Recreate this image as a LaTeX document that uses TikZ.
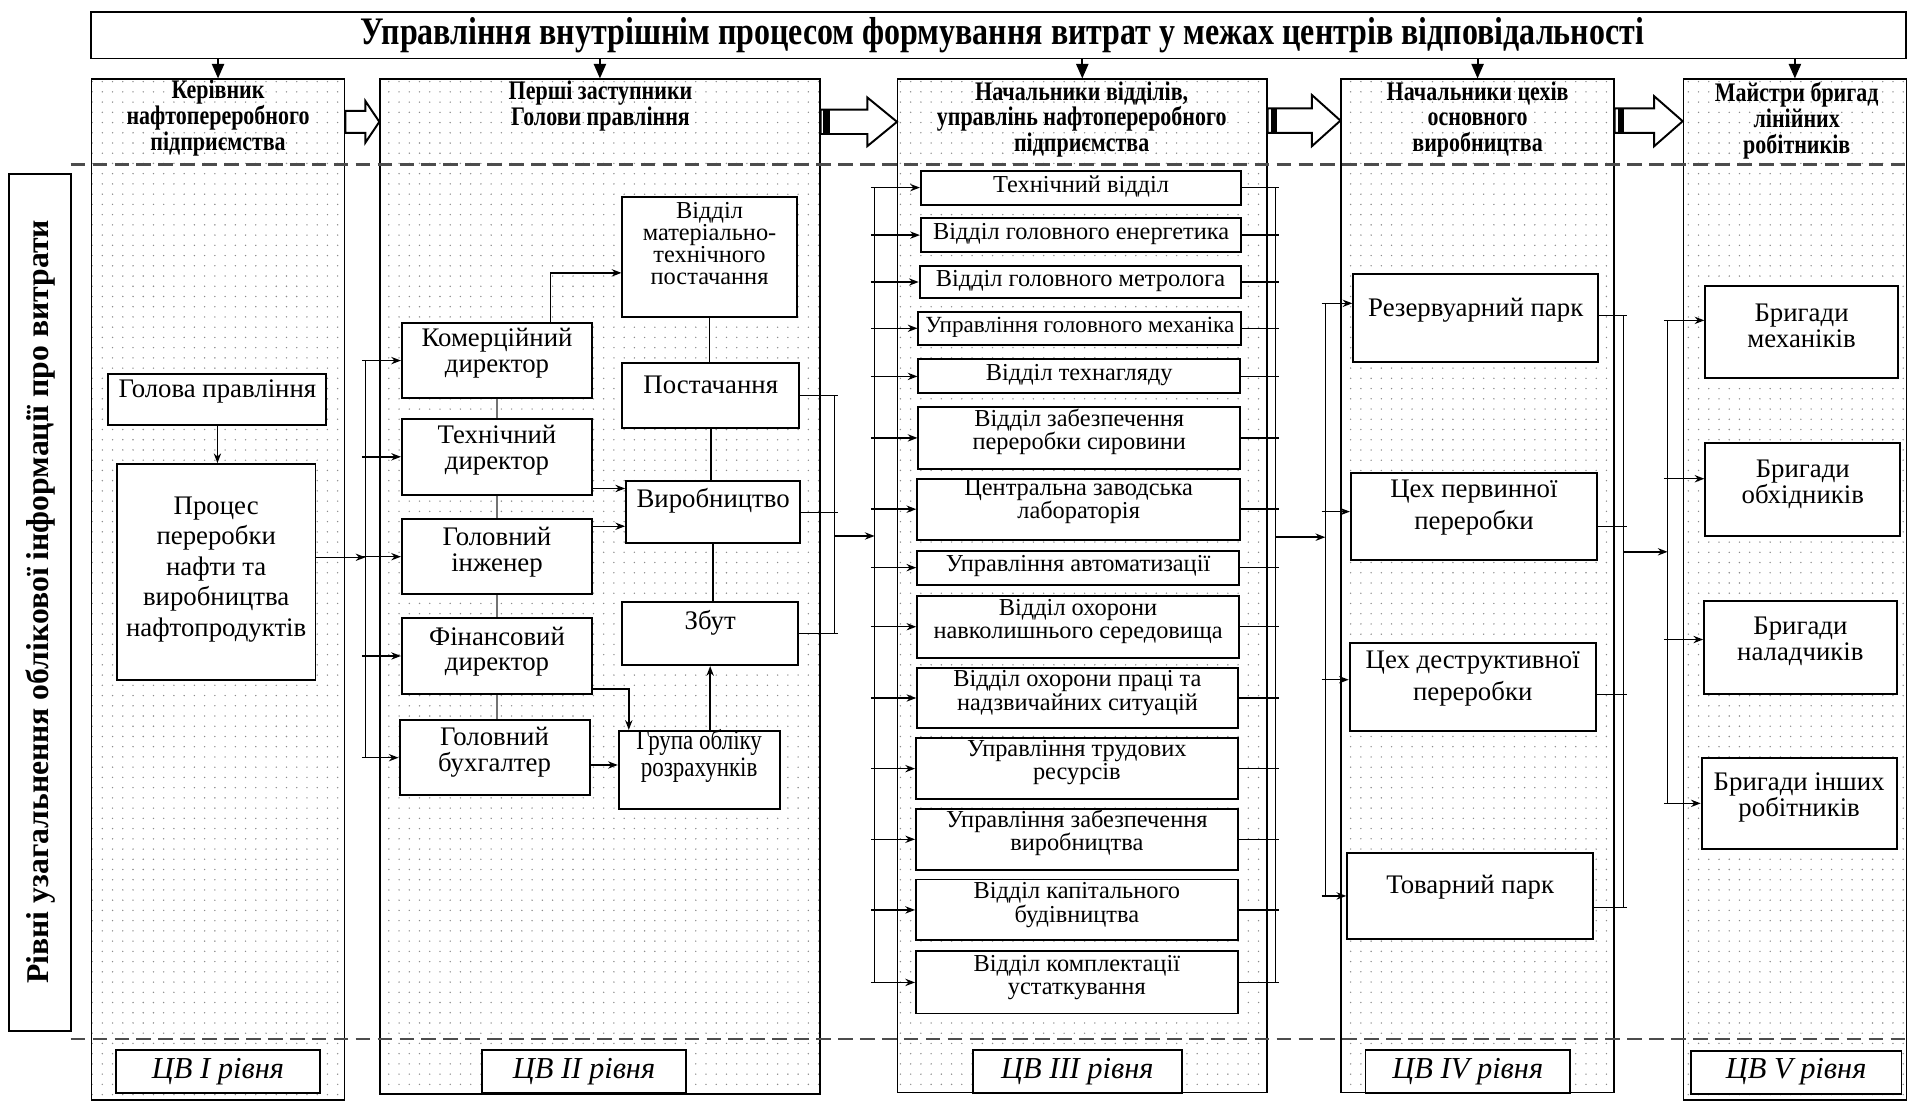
\documentclass[tikz,border=0pt]{standalone}
\usepackage{fontspec}
\setmainfont{Liberation Serif}
\newfontfamily\cnd[FakeStretch=0.82]{Liberation Serif}
\usetikzlibrary{fit,calc,arrows.meta,patterns.meta}

\newcommand\bxx[8][]{%
  \node[box,fit={(#3,#4)(#5,#6)}] (#2) {};
  \node[txt,#1] (#2t) at ({(#3+#5)/2},#7) {#8};}

\begin{document}
\begin{tikzpicture}[x=0.5pt,y=-0.5pt,
  col/.style={draw=black,line width=0.6pt,pattern={Dots[distance=4.2pt,radius=0.32pt]},pattern color=black!45,inner sep=0pt},
  box/.style={draw=black,line width=0.8pt,fill=white,inner sep=0pt},
  txt/.style={inner sep=0pt,align=center,font=\fontsize{11}{10.5}\selectfont},
  hdr/.style={inner sep=0pt,align=center,font=\cnd\bfseries\fontsize{11}{10.6}\selectfont},
  lvl/.style={font=\itshape\fontsize{12.5}{14}\selectfont},
  c3t/.style={font=\fontsize{10}{9.5}\selectfont},
  c4t/.style={font=\fontsize{11}{13}\selectfont},
  ln/.style={line width=0.6pt},
  fl/.style={line width=0.5pt,draw=black!55},
  arr/.style={ln,-{Stealth[length=4pt,width=3pt]}},
  darr/.style={line width=0.8pt,-{Triangle[length=6pt,width=5pt]}},
  harr/.style={draw=black,line width=0.8pt,fill=white,line join=miter},
  dsh/.style={draw=black!70,line width=1.1pt,dash pattern=on 6pt off 3pt},
]
\useasboundingbox (0,0) rectangle (1568,907);

% columns
\node[col,fit={(75,65)(283,903)}] (c1) {};
\node[col,fit={(312,65)(673,898)}] (c2) {};
\node[col,fit={(737,65)(1040,897)}] (c3) {};
\node[col,fit={(1101,65)(1325,897)}] (c4) {};
\node[col,fit={(1382,65)(1565,903)}] (c5) {};

% title
\node[box,fit={(75,10)(1565,48)}] (title) {};
\node[inner sep=0pt,font=\cnd\bfseries\fontsize{16}{18}\selectfont] (titlet) at (823,29)
  {Управління внутрішнім процесом формування витрат у межах центрів відповідальності};
\foreach \c in {c1,c2,c3,c4,c5} \draw[darr] (title.south -| \c.north) -- (\c.north);

% dashed level lines
\draw[dsh] (58,135) -- (c5.east |- 0,135);
\draw[dsh] (58,853) -- (c5.east |- 0,853);

% side label
\node[box,fit={(7,143)(58,846)}] (side) {};
\node[rotate=90,inner sep=0pt,font=\bfseries\fontsize{13}{15}\selectfont] (sidet) at (33,494)
  {Рівні узагальнення облікової інформації про витрати};

% headers
\node[hdr] (h1) at (179,97) {Керівник\\нафтопереробного\\підприємства};
\node[hdr] (h2) at (493,87) {Перші заступники\\Голови правління};
\node[hdr] (h3) at (888,98) {Начальники відділів,\\управлінь нафтопереробного\\підприємства};
\node[hdr] (h4) at (1213,98) {Начальники цехів\\основного\\виробництва};
\node[hdr] (h5) at (1475,99) {Майстри бригад\\лінійних\\робітників};

% header block arrows
\draw[harr] (c1.east |- 0,91) -- (300,91) -- (300,83) -- (c2.west |- 0,100) -- (300,117) -- (300,109) -- (c1.east |- 0,109) -- cycle;
\draw[harr] (c2.east |- 0,90) -- (712,90) -- (712,80) -- (c3.west |- 0,100) -- (712,120) -- (712,110) -- (c2.east |- 0,110) -- cycle;
\draw[harr] (c3.east |- 0,89) -- (1077,89) -- (1077,78) -- (c4.west |- 0,99) -- (1077,120) -- (1077,109) -- (c3.east |- 0,109) -- cycle;
\draw[harr] (c4.east |- 0,89) -- (1358,89) -- (1358,79) -- (c5.west |- 0,99.5) -- (1358,120) -- (1358,109) -- (c4.east |- 0,109) -- cycle;
\fill (676,90) rectangle (681,110);
\fill (1043,89) rectangle (1048,109);
\fill (1328,89) rectangle (1333,109);

% column 1
\bxx{golova}{89}{307}{268}{349}{321}{Голова правління}
\bxx[font=\fontsize{11}{12.5}\selectfont]{proc}{96}{381}{259}{558}{467.5}{Процес\\переробки\\нафти та\\виробництва\\нафтопродуктів}

% column 2
\bxx{kom}{330}{265}{486}{327}{290}{Комерційний\\директор}
\bxx{tech}{330}{344}{486}{406}{369.5}{Технічний\\директор}
\bxx{inzh}{330}{426}{486}{488}{453.5}{Головний\\інженер}
\bxx{fin}{330}{507}{486}{570}{535}{Фінансовий\\директор}
\bxx{buh}{328}{591}{484}{653}{617.5}{Головний\\бухгалтер}
\bxx[font=\fontsize{10}{9}\selectfont]{mto}{511}{162}{654}{260}{200}{Відділ\\матеріально-\\технічного\\постачання}
\bxx{post}{511}{298}{656}{351}{316}{Постачання}
\bxx{vyr}{514}{395}{657}{446}{411}{Виробництво}
\bxx{zbut}{511}{494}{655}{546}{511}{Збут}
\bxx[font=\cnd\fontsize{11.5}{9.5}\selectfont]{grupa}{508}{600}{640}{664}{620.5}{Група обліку\\розрахунків}

% column 3
\bxx[c3t]{d1}{756}{140}{1019}{168}{153}{Технічний відділ}
\bxx[c3t]{d2}{756}{179}{1019}{207}{192}{Відділ головного енергетика}
\bxx[c3t]{d3}{755}{218}{1019}{245}{231}{Відділ головного метролога}
\bxx[font=\fontsize{9.5}{9.5}\selectfont]{d4}{754}{256}{1019}{283}{269}{Управління головного механіка}
\bxx[c3t]{d5}{754}{295}{1018}{323}{308}{Відділ технагляду}
\bxx[c3t]{d6}{754}{334}{1018}{385}{354.5}{Відділ забезпечення\\переробки сировини}
\bxx[c3t]{d7}{753}{393}{1018}{443}{412}{Центральна заводська\\лабораторія}
\bxx[c3t]{d8}{753}{452}{1017}{480}{465}{Управління автоматизації}
\bxx[c3t]{d9}{753}{489}{1017}{540}{510}{Відділ охорони\\навколишнього середовища}
\bxx[c3t]{d10}{753}{548}{1016}{598}{569}{Відділ охорони праці та\\надзвичайних ситуацій}
\bxx[c3t]{d11}{752}{606}{1016}{656}{626}{Управління трудових\\ресурсів}
\bxx[c3t]{d12}{752}{664}{1016}{714}{684}{Управління забезпечення\\виробництва}
\bxx[c3t]{d13}{752}{722}{1016}{772}{743}{Відділ капітального\\будівництва}
\bxx[c3t]{d14}{752}{781}{1016}{832}{802.5}{Відділ комплектації\\устаткування}

% column 4
\bxx[c4t]{rez}{1111}{225}{1312}{297}{255}{Резервуарний парк}
\bxx[c4t]{perv}{1109}{388}{1311}{460}{416.5}{Цех первинної\\переробки}
\bxx[c4t]{destr}{1108}{528}{1310}{600}{557}{Цех деструктивної\\переробки}
\bxx[c4t]{tov}{1106}{700}{1308}{771}{728}{Товарний парк}

% column 5
\bxx{mech}{1400}{235}{1558}{310}{267.5}{Бригади\\механіків}
\bxx{obh}{1400}{364}{1560}{440}{397.5}{Бригади\\обхідників}
\bxx{nal}{1399}{493}{1557}{570}{526.5}{Бригади\\наладчиків}
\bxx{inshi}{1397}{622}{1557}{697}{654.5}{Бригади інших\\робітників}

% level labels
\bxx[lvl]{l1}{95}{862}{263}{897}{880}{ЦВ I рівня}
\bxx[lvl]{l2}{396}{862}{563}{897}{880}{ЦВ II рівня}
\bxx[lvl]{l3}{799}{862}{970}{897}{880}{ЦВ III рівня}
\bxx[lvl]{l4}{1121}{862}{1289}{897}{880}{ЦВ IV рівня}
\bxx[lvl]{l5}{1388}{863}{1561}{898}{880}{ЦВ V рівня}

% bus coordinates
\coordinate (b2L) at (300,0);
\coordinate (b2R) at (685,0);
\coordinate (b3L) at (718,0);
\coordinate (b3R) at (1047,0);
\coordinate (b4L) at (1088,0);
\coordinate (b4R) at (1333,0);
\coordinate (b5L) at (1369,0);

% column 1 connectors
\draw[arr] (golova.south) -- (golova.south |- proc.north);
\coordinate (pe) at ($(proc.east)+(0,-12)$);
\draw[arr] (pe) -- (pe -| b2L);

% column 2 connectors
\draw[ln] (b2L |- kom.west) -- (b2L |- buh.west);
\foreach \n in {kom,tech,inzh,fin,buh} \draw[arr] ($(b2L |- \n.west)+(-3,0)$) -- (\n.west);
\draw[fl] (kom.south) -- (kom.south |- tech.north);
\draw[fl] (tech.south) -- (tech.south |- inzh.north);
\draw[fl] (inzh.south) -- (inzh.south |- fin.north);
\draw[fl] (fin.south) -- (fin.south |- buh.north);
\coordinate (k1) at ($(kom.north)+(44,0)$);
\coordinate (m1) at ($(mto.west)+(0,13)$);
\draw[arr] (k1) |- (m1);
\draw[ln] (mto.south) -- (mto.south |- post.north);
\draw[ln] (post.south) -- (post.south |- vyr.north);
\draw[ln] (vyr.south) -- (vyr.south |- zbut.north);
\draw[arr] (grupa.north -| zbut.south) -- (zbut.south);
\coordinate (t1) at ($(tech.east)+(0,26)$);
\draw[arr] (t1) -- (t1 -| vyr.west);
\coordinate (i1) at ($(inzh.east)+(0,-25)$);
\draw[arr] (i1) -- (i1 -| vyr.west);
\coordinate (f1) at ($(fin.east)+(0,27)$);
\coordinate (g1) at ($(grupa.north west)+(9,0)$);
\draw[arr] (f1) -| (g1);
\coordinate (bh) at ($(buh.east)+(0,6)$);
\draw[arr] (bh) -- (bh -| grupa.west);
\foreach \n in {post,vyr,zbut} \draw[ln] (\n.east) -- ($(b2R |- \n.east)+(3,0)$);
\draw[ln] (b2R |- post.east) -- (b2R |- zbut.east);
\coordinate (o2) at (b2R |- 0,440);
\draw[arr] (o2) -- (o2 -| b3L);

% column 3 connectors
\draw[ln] (b3L |- d1.west) -- (b3L |- d14.west);
\draw[ln] (b3R |- d1.east) -- (b3R |- d14.east);
\foreach \n in {d1,d2,d3,d4,d5,d6,d7,d8,d9,d10,d11,d12,d13,d14} {
  \draw[arr] ($(b3L |- \n.west)+(-3,0)$) -- (\n.west);
  \draw[ln] (\n.east) -- ($(b3R |- \n.east)+(3,0)$);
}
\coordinate (o3) at (b3R |- 0,441);
\draw[arr] (o3) -- (o3 -| b4L);

% column 4 connectors
\draw[ln] ($(b4L |- rez.west)+(0,-12)$) -- (b4L |- tov.west);
\draw[ln] ($(b4R |- rez.east)+(0,-2)$) -- ($(b4R |- tov.east)+(0,9.5)$);
\foreach \n/\a/\b in {rez/-12/-2,perv/-4/8,destr/-6/6,tov/0/9.5} {
  \coordinate (L) at ($(\n.west)+(0,\a)$);
  \draw[arr] ($(L -| b4L)+(-3,0)$) -- (L);
  \coordinate (R) at ($(\n.east)+(0,\b)$);
  \draw[ln] (R) -- ($(R -| b4R)+(3,0)$);
}
\coordinate (o4) at (b4R |- 0,453);
\draw[arr] (o4) -- (o4 -| b5L);

% column 5 connectors
\draw[ln] ($(b5L |- mech.west)+(0,-9.5)$) -- (b5L |- inshi.west);
\foreach \n/\a in {mech/-9.5,obh/-9,nal/-6.5,inshi/0} {
  \coordinate (L) at ($(\n.west)+(0,\a)$);
  \draw[arr] ($(L -| b5L)+(-3,0)$) -- (L);
}
\end{tikzpicture}
\end{document}
